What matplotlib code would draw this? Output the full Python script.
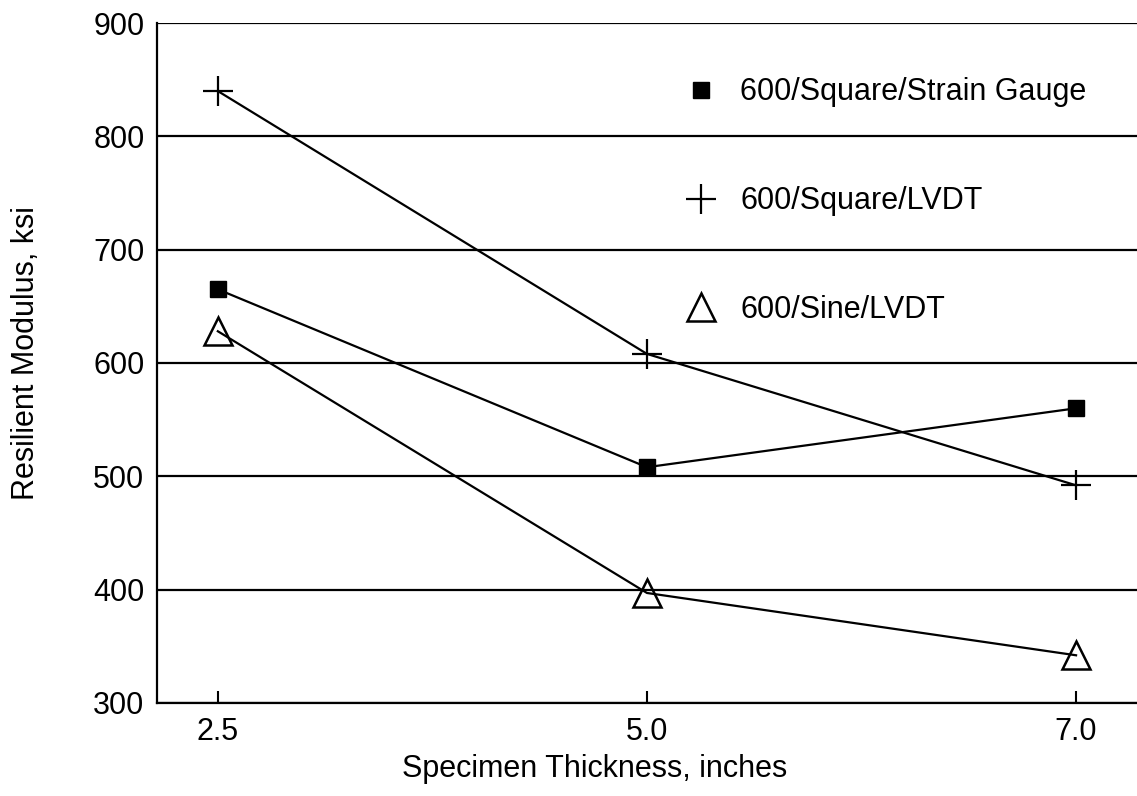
import numpy as np
import matplotlib
matplotlib.use('Agg')
import matplotlib.pyplot as plt
from matplotlib.lines import Line2D

plt.rcParams['font.family'] = ['Liberation Sans', 'DejaVu Sans']

# Espessura dos corpos de prova e módulo resiliente (ksi)
thickness_labels = ['2.5', '5.0', '7.0']
square_strain_gauge = [665, 508, 560]
square_lvdt = [840, 608, 492]
sine_lvdt = [628, 397, 342]
series_labels = ['600/Square/Strain Gauge', '600/Square/LVDT', '600/Sine/LVDT']

fig = plt.figure(figsize=(11.37, 7.96), dpi=100)
ax = fig.add_axes([0.138, 0.117, 0.862, 0.854])

x = np.arange(len(thickness_labels))

# Linhas de grade horizontais atrás das séries
for yv in range(300, 901, 100):
    ax.axhline(yv, color='black', lw=1.6, zorder=1)

lw = 1.6
ax.plot(x, square_strain_gauge, color='black', lw=lw, marker='s', ms=12,
        mfc='black', mec='black', zorder=3)
ax.plot(x, square_lvdt, color='black', lw=lw, marker='+', ms=21, mew=1.6,
        zorder=3)
ax.plot(x, sine_lvdt, color='black', lw=lw, marker='^', ms=19.5, mfc='none',
        mec='black', mew=1.8, zorder=3)

ax.set_xlim(-0.142, 2.142)
ax.set_ylim(300, 900)
ax.set_xticks(x)
ax.set_xticklabels(thickness_labels)
ax.set_yticks(range(300, 901, 100))

fs = 22
ax.tick_params(axis='x', direction='in', length=8.5, width=1.5, pad=10,
               labelsize=fs)
ax.tick_params(axis='y', length=0, pad=9, labelsize=fs)

for side in ['top', 'right']:
    ax.spines[side].set_visible(False)
ax.spines['left'].set_linewidth(1.6)
ax.spines['bottom'].set_linewidth(1.6)

ax.set_xlabel('Specimen Thickness, inches', fontsize=fs)
ax.xaxis.set_label_coords(0.447, -0.075)
ax.set_ylabel('Resilient Modulus, ksi', fontsize=fs)
ax.yaxis.set_label_coords(-0.118, 0.515)

# Legenda só com os marcadores
handles = [
    Line2D([], [], ls='none', marker='s', ms=12, mfc='black', mec='black'),
    Line2D([], [], ls='none', marker='+', ms=21, mew=1.6, color='black'),
    Line2D([], [], ls='none', marker='^', ms=19.5, mfc='none', mec='black', mew=1.8),
]
leg = ax.legend(handles, series_labels, loc='upper left',
                bbox_to_anchor=(0.540, 0.920), frameon=False, fontsize=fs,
                handlelength=1.0, handletextpad=0.775, labelspacing=2.58,
                borderpad=0, borderaxespad=0)
leg.set_zorder(5)

fig.savefig('out.png', dpi=100, facecolor='white')
